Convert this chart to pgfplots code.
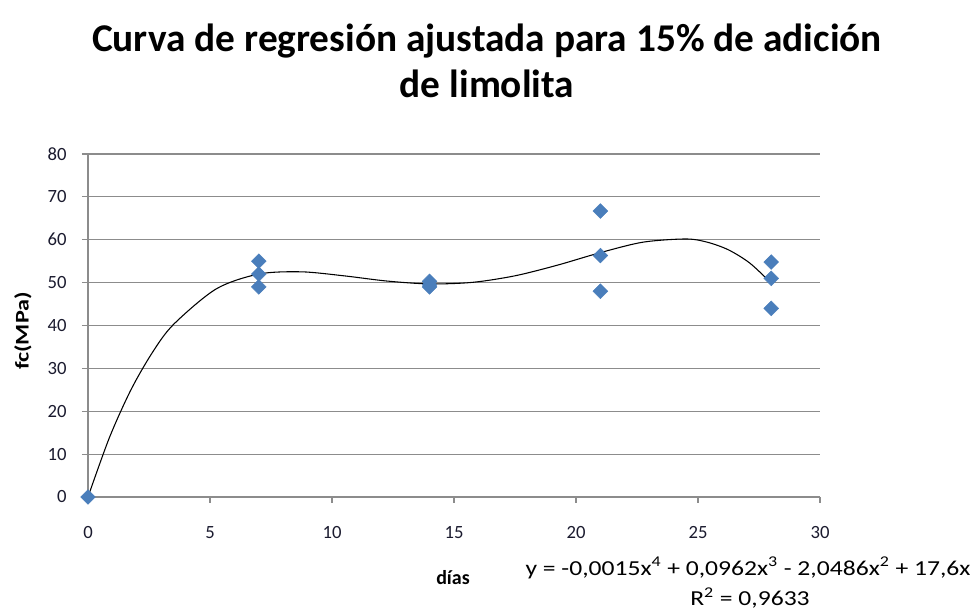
\documentclass[border=0pt]{standalone}
\usepackage{pgfplots}
\pgfplotsset{compat=1.18}
\usepackage{fontspec}
\setmainfont{Carlito}

\definecolor{marker}{HTML}{4A7EBB}
\definecolor{gridgray}{HTML}{8C8C8C}
\definecolor{labeltext}{HTML}{1A1A2E}

\begin{document}
\begin{tikzpicture}[x=0.75pt,y=0.75pt]
\path[use as bounding box] (0,0) rectangle (976,610);

\begin{axis}[
    at={(66pt,84.75pt)}, anchor=south west,
    width=549pt, height=257.25pt, scale only axis,
    xmin=0, xmax=30, ymin=0, ymax=80,
    xtick={0,5,...,30}, ytick={0,10,...,80},
    axis lines*=left,
    ymajorgrids,
    grid style={gridgray, line width=0.9pt},
    axis line style={gridgray, line width=0.9pt},
    tick style={gridgray, line width=0.9pt},
    tick align=outside,
    major tick length=4.5pt,
    ticklabel style={font=\fontsize{14}{16}\selectfont, text=labeltext},
    /pgf/number format/assume math mode=true,
    xticklabel style={yshift=-14pt},
    yticklabel style={xshift=-8pt},
    clip=false,
]
% ensayos (fc en MPa)
\addplot[only marks, mark=square*, mark size=3.9pt,
    mark options={rotate=45, fill=marker, draw=marker}]
coordinates {
    (0,0)
    (7,55) (7,52) (7,49)
    (14,50.3) (14,49.5) (14,49.0)
    (21,66.7) (21,56.3) (21,48.0)
    (28,54.8) (28,51.0) (28,44.0)
};
% curva de tendencia (polinómica, grado 4)
\addplot[black, line width=0.8pt, smooth] coordinates {
    (0,0) (0.875,13.81) (1.75,24.89) (2.625,33.58) (3.5,40.22)
    (5.25,48.52) (7,52.00) (8.75,52.52) (10.5,51.58) (12.25,50.37)
    (14,49.70) (15.75,50.06) (17.5,51.59) (19.25,54.09) (21,57.00)
    (22.75,59.44) (24.5,60.18) (25.375,59.44) (26.25,57.64)
    (27.125,54.55) (28,49.90)
};
\end{axis}

\node[align=center, font=\fontsize{29.5}{34}\selectfont\bfseries]
    at (487,549) {Curva de regresión ajustada para 15\% de adición\\de limolita};
\node[rotate=90, font=\fontsize{14.5}{16}\selectfont\bfseries] at (23,279) {\scalebox{1.25}[1]{fc(MPa)}};
\node[font=\fontsize{15}{17}\selectfont\bfseries] at (453,32) {días};
\node[font=\fontsize{16}{18}\selectfont] at (748,42)
    {\scalebox{1.2}[1]{y = -0,0015x\textsuperscript{4} + 0,0962x\textsuperscript{3} - 2,0486x\textsuperscript{2} + 17,6x}};
\node[font=\fontsize{16}{18}\selectfont] at (750,12) {\scalebox{1.2}[1]{R\textsuperscript{2} = 0,9633}};
\end{tikzpicture}
\end{document}
